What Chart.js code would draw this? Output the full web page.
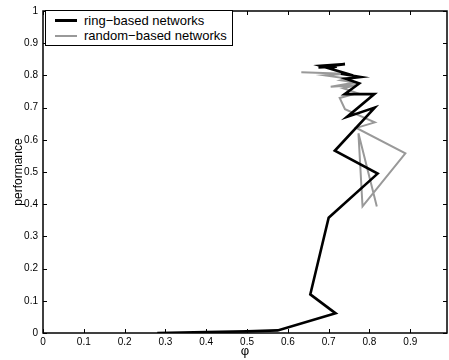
<!DOCTYPE html>
<html>
<head>
<meta charset="utf-8">
<script src="https://cdn.jsdelivr.net/npm/chart.js@4.4.0/dist/chart.umd.min.js"></script>
<style>
  html, body { margin: 0; padding: 0; background: #fff; }
  #wrap { position: relative; width: 449px; height: 360px; }
  #legend {
    position: absolute; left: 45px; top: 10px; width: 186px; height: 34px;
    border: 1px solid #000; background: #fff;
    font-family: "Liberation Sans", Arial, sans-serif; font-size: 13px; color: #000;
  }
  .item { position: absolute; left: 9px; height: 15px; line-height: 15px; }
  .item span.line { position: absolute; left: 0; top: 7px; width: 22px; height: 2px; }
  .item span.lbl { position: absolute; left: 29px; white-space: nowrap; }
</style>
</head>
<body>
<div id="wrap">
  <canvas id="chart" width="449" height="360"></canvas>
  <div id="legend">
    <div class="item" style="top:2px"><span class="line" style="background:#000;height:3px;top:6px"></span><span class="lbl">ring&minus;based networks</span></div>
    <div class="item" style="top:17px"><span class="line" style="background:#999"></span><span class="lbl">random&minus;based networks</span></div>
  </div>
</div>
<script>
// valores
const ringX = [0.28, 0.40, 0.50, 0.575, 0.717, 0.655, 0.70, 0.82, 0.715, 0.813, 0.745, 0.812, 0.739, 0.775, 0.742, 0.778, 0.73, 0.76, 0.68, 0.74, 0.675, 0.72, 0.70];
const ringY = [0.0, 0.003, 0.005, 0.008, 0.061, 0.12, 0.358, 0.495, 0.566, 0.70, 0.671, 0.742, 0.742, 0.775, 0.79, 0.795, 0.805, 0.80, 0.83, 0.835, 0.825, 0.828, 0.822];

const randX = [0.633, 0.74, 0.69, 0.745, 0.73, 0.765, 0.705, 0.77, 0.735, 0.77, 0.727, 0.74, 0.813, 0.768, 0.888, 0.783, 0.773, 0.818];
const randY = [0.81, 0.805, 0.80, 0.79, 0.785, 0.778, 0.765, 0.77, 0.76, 0.745, 0.73, 0.695, 0.654, 0.637, 0.558, 0.393, 0.62, 0.393];

const xTicks = [0, 0.1, 0.2, 0.3, 0.4, 0.5, 0.6, 0.7, 0.8, 0.9];
const yTicks = [0, 0.1, 0.2, 0.3, 0.4, 0.5, 0.6, 0.7, 0.8, 0.9, 1];

function toPoints(xs, ys) {
    return xs.map((x, i) => ({x: x, y: ys[i]}));
}

function fmt(v) {
    if (Math.abs(v) < 1e-9) return '0';
    return String(+v.toFixed(1));
}

// moldura e marcas internas no estilo matlab
const framePlugin = {
    id: 'frame',
    afterDraw(chart) {
        const ctx = chart.ctx;
        const a = chart.chartArea;
        const xs = chart.scales.x, ys = chart.scales.y;
        ctx.save();
        ctx.strokeStyle = '#000';
        ctx.lineWidth = 1;
        ctx.beginPath();
        xTicks.forEach(t => {
            const px = Math.round(xs.getPixelForValue(t)) + 0.5;
            ctx.moveTo(px, a.bottom); ctx.lineTo(px, a.bottom - 4);
            ctx.moveTo(px, a.top); ctx.lineTo(px, a.top + 4);
        });
        yTicks.forEach(t => {
            const py = Math.round(ys.getPixelForValue(t)) + 0.5;
            ctx.moveTo(a.left, py); ctx.lineTo(a.left + 4, py);
            ctx.moveTo(a.right, py); ctx.lineTo(a.right - 4, py);
        });
        ctx.stroke();
        ctx.lineWidth = 1.5;
        ctx.strokeRect(a.left, a.top, a.right - a.left, a.bottom - a.top);
        ctx.restore();
    }
};

const ctx = document.getElementById('chart').getContext('2d');
const chart = new Chart(ctx, {
    type: 'scatter',
    data: {
        datasets: [{
            label: 'ring-based networks',
            data: toPoints(ringX, ringY),
            showLine: true,
            borderColor: '#000',
            borderWidth: 2.6,
            pointRadius: 0,
            tension: 0
        }, {
            label: 'random-based networks',
            data: toPoints(randX, randY),
            showLine: true,
            borderColor: '#999',
            borderWidth: 2,
            pointRadius: 0,
            tension: 0
        }]
    },
    options: {
        responsive: false,
        animation: false,
        layout: { padding: { top: 10, right: 2, left: 11, bottom: 1 } },
        plugins: {
            legend: { display: false },
            tooltip: { enabled: false }
        },
        scales: {
            x: {
                type: 'linear',
                min: 0, max: 0.99,
                afterFit(s) { s.height = 26; },
                afterBuildTicks(s) { s.ticks = xTicks.map(v => ({value: v})); },
                grid: { display: false, drawTicks: false },
                border: { display: false },
                ticks: {
                    callback: v => fmt(v),
                    font: { family: 'Liberation Sans', size: 10 },
                    color: '#000',
                    padding: 3,
                    maxRotation: 0
                },
                title: {
                    display: true, text: 'φ',
                    font: { family: 'Liberation Sans', size: 13 },
                    color: '#000',
                    padding: { top: 0, bottom: 0 }
                }
            },
            y: {
                type: 'linear',
                min: 0, max: 1,
                afterFit(s) { s.width = 32; },
                afterBuildTicks(s) { s.ticks = yTicks.map(v => ({value: v})); },
                grid: { display: false, drawTicks: false },
                border: { display: false },
                ticks: {
                    callback: v => fmt(v),
                    font: { family: 'Liberation Sans', size: 10 },
                    color: '#000',
                    padding: 5
                },
                title: {
                    display: true, text: 'performance',
                    font: { family: 'Liberation Sans', size: 12 },
                    color: '#000',
                    padding: { top: 0, bottom: 0 }
                }
            }
        }
    },
    plugins: [framePlugin]
});
</script>
</body>
</html>
